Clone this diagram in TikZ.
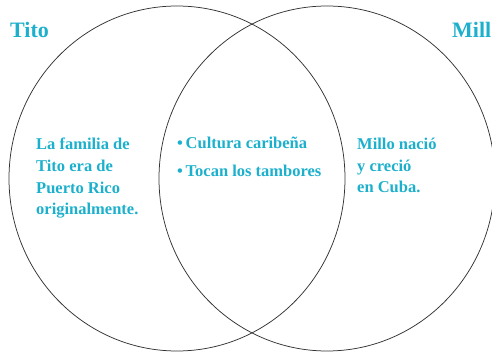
\documentclass[tikz,border=0pt]{standalone}
\usepackage{fontspec}
\setmainfont{Liberation Serif}
\definecolor{vennteal}{RGB}{28,176,204}
\tikzset{
    venntext/.style={text=vennteal,font=\bfseries\fontsize{16.5}{21.6}\selectfont,align=left,inner sep=0pt,anchor=north west},
    venntitle/.style={text=vennteal,font=\bfseries\fontsize{22}{24}\selectfont,inner sep=0pt,anchor=base west}
}
\begin{document}
\begin{tikzpicture}[x=1pt,y=-1pt]
        \useasboundingbox (0,0) rectangle (492,352);
        \draw[black!80,line width=0.75pt] (177,178.5) ellipse [x radius=168,y radius=172.5];
        \draw[black!80,line width=0.75pt] (327,178.5) ellipse [x radius=168,y radius=172.5];

        \node[venntitle] (tito) at (10,38) {Tito};
        \node[venntitle] (millo) at (452,38) {Mill};

        \node[venntext] (titofacts) at (36,138) {La familia de\\Tito era de\\Puerto Rico\\originalmente.};
        \node[venntext,font=\bfseries\fontsize{16.5}{28}\selectfont] (shared) at (177,137) {•\,Cultura caribeña\\•\,Tocan los tambores};
        \node[venntext] (millofacts) at (357,138) {Millo nació\\y creció\\en Cuba.};
    \end{tikzpicture}
\end{document}
